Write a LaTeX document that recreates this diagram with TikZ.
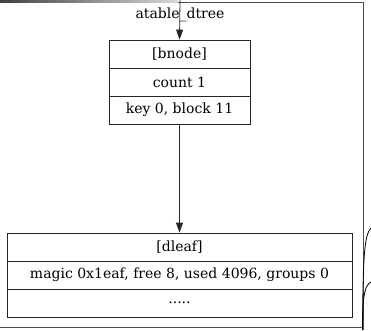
\documentclass[tikz,border=0pt]{standalone}
\usepackage{fontspec}
\setmainfont{DejaVu Serif}
\usetikzlibrary{arrows.meta}
\tikzset{
  txt/.style={font=\fontsize{14}{16}\selectfont},
  rec/.style={txt, draw=black!85, line width=0.8pt, minimum height=28pt, inner sep=0pt},
  edge/.style={draw=black!85, line width=0.8pt, -{Triangle[length=10pt,width=7pt]}},
  frame/.style={draw=black!70, line width=1pt},
}
\begin{document}
\begin{tikzpicture}[x=1pt,y=-1pt]
\useasboundingbox (0,0) rectangle (371,330);
% cluster frame
\shade[left color=black!75, right color=black!15] (0,0) rectangle (178,2.5);
\draw[frame] (178,2) -- (363,2) -- (363,330);
\draw[frame] (0,327) -- (363,327);
% bnode record
\node[rec, minimum width=141pt] (b1) at (179.5,54) {[bnode]};
\node[rec, minimum width=141pt] (b2) at (179.5,82) {count 1};
\node[rec, minimum width=141pt] (b3) at (179.5,110) {key 0, block 11};
% dleaf record
\node[rec, minimum width=345pt] (d1) at (179.5,247) {[dleaf]};
\node[rec, minimum width=345pt] (d2) at (179.5,275) {magic 0x1eaf, free 8, used 4096, groups 0};
\node[rec, minimum width=345pt] (d3) at (179.5,303) {.....};
% edges
\coordinate (in) at (180,0);
\draw[edge] (in) -- (b1.north);
\node[txt, inner sep=0pt] (lab) at (180,15) {atable\_dtree};
\draw[edge] (b3.south) -- (d1.north);
% outgoing curves at right
\coordinate (c1a) at (362.5,330);
\coordinate (c1b) at (371,228);
\coordinate (c2a) at (362.5,318);
\coordinate (c2b) at (371,282);
\draw[line width=0.8pt] (c1a) .. controls (363,260) and (364,235) .. (c1b);
\draw[line width=0.8pt] (c2a) .. controls (363,295) and (365,285) .. (c2b);
\end{tikzpicture}
\end{document}
